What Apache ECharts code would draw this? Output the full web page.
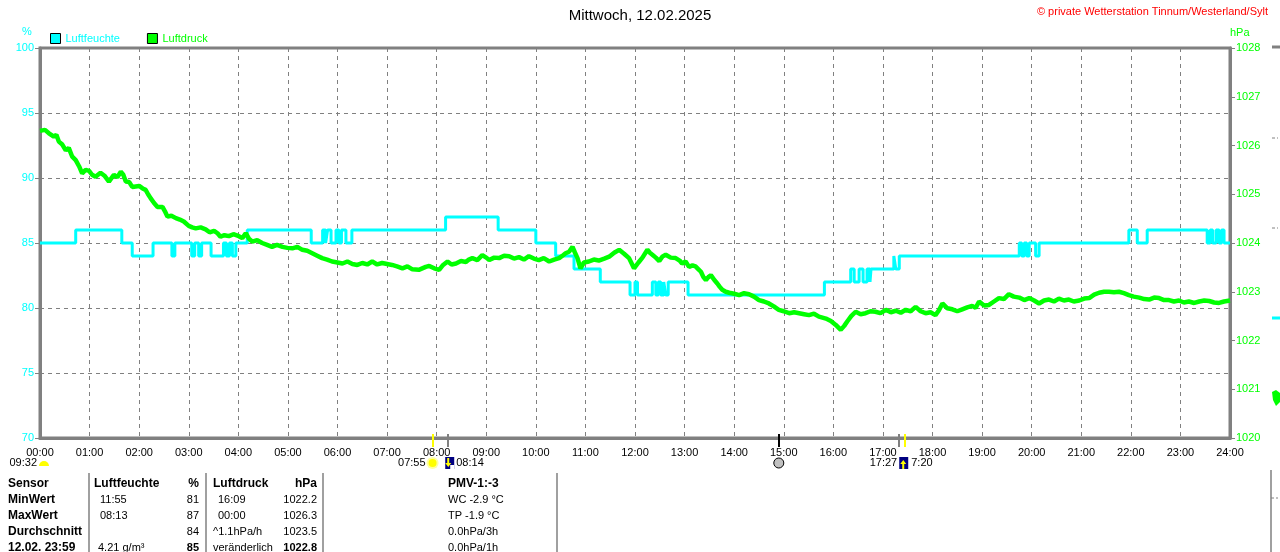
<!DOCTYPE html>
<html><head><meta charset="utf-8">
<script src="https://cdn.jsdelivr.net/npm/echarts@6/dist/echarts.min.js"></script>
<style>html,body{margin:0;padding:0;background:#fff}#c{width:1280px;height:552px}</style>
</head><body><div id="c"></div>
<script>
const FONT = 'Liberation Sans, Arial, sans-serif';
const titleText = 'Mittwoch, 12.02.2025';
const copyrightText = '© private Wetterstation Tinnum/Westerland/Sylt';
const seriesNames = ['Luftfeuchte', 'Luftdruck'];
const xTickLabels = ['00:00','01:00','02:00','03:00','04:00','05:00','06:00','07:00','08:00','09:00','10:00','11:00','12:00','13:00','14:00','15:00','16:00','17:00','18:00','19:00','20:00','21:00','22:00','23:00','24:00'];

// Luftfeuchte (%), step values: value holds from time (hours) until next entry
const humTime = [0,0.72,1.65,1.86,2.28,2.66,2.72,3.06,3.12,3.2,3.26,3.45,3.7,3.76,3.82,3.88,3.95,4.18,5.47,5.70,5.76,5.80,5.87,5.97,6.03,6.08,6.17,6.29,8.18,9.24,10.0,10.4,10.77,11.3,11.9,12.0,12.05,12.35,12.42,12.47,12.52,12.58,12.62,12.67,13.07,15.82,16.35,16.42,16.52,16.6,16.68,16.74,16.76,17.22,17.26,17.33,19.75,19.8,19.85,19.9,19.95,20.08,20.15,21.96,22.13,22.33,23.54,23.6,23.65,23.72,23.78,23.83,23.88,24];
const humValue = [85,86,85,84,85,84,85,84,85,84,85,84,85,84,85,84,85,86,85,86,85,86,85,86,85,86,85,86,87,86,85,84,83,82,81,82,81,82,81,82,81,82,81,82,81,82,83,82,83,82,83,82,83,84,83,84,85,84,85,84,85,84,85,86,85,86,85,86,85,86,85,86,85,85];

// Luftdruck (hPa)
const pressTime = [0.00,0.10,0.18,0.28,0.33,0.38,0.45,0.52,0.58,0.65,0.72,0.79,0.85,0.92,0.99,1.05,1.12,1.22,1.30,1.39,1.49,1.56,1.63,1.68,1.73,1.80,1.86,2.00,2.07,2.13,2.18,2.23,2.30,2.37,2.47,2.52,2.57,2.65,2.74,2.82,2.90,3.00,3.07,3.14,3.24,3.34,3.42,3.51,3.58,3.64,3.72,3.81,3.90,4.01,4.08,4.15,4.22,4.28,4.38,4.48,4.58,4.68,4.78,4.89,4.99,5.09,5.19,5.29,5.39,5.49,5.59,5.69,5.79,5.89,6.00,6.10,6.20,6.30,6.40,6.50,6.60,6.70,6.80,6.90,7.00,7.10,7.20,7.31,7.41,7.51,7.64,7.78,7.85,7.95,8.05,8.13,8.22,8.30,8.39,8.49,8.59,8.65,8.72,8.82,8.92,9.00,9.06,9.16,9.26,9.36,9.46,9.56,9.66,9.76,9.86,9.96,10.06,10.16,10.27,10.37,10.47,10.55,10.60,10.67,10.74,10.79,10.84,10.90,10.97,11.07,11.17,11.27,11.38,11.48,11.58,11.68,11.78,11.88,11.98,12.07,12.15,12.25,12.30,12.35,12.42,12.49,12.55,12.62,12.72,12.82,12.90,12.95,13.02,13.09,13.16,13.22,13.28,13.33,13.38,13.43,13.48,13.53,13.60,13.66,13.71,13.76,13.83,13.90,14.00,14.10,14.20,14.30,14.40,14.50,14.60,14.70,14.80,14.90,15.00,15.11,15.21,15.31,15.41,15.51,15.61,15.71,15.85,15.95,16.05,16.15,16.22,16.28,16.36,16.45,16.55,16.65,16.75,16.85,16.95,17.06,17.16,17.26,17.36,17.46,17.56,17.66,17.76,17.86,17.96,18.06,18.13,18.20,18.30,18.40,18.50,18.60,18.70,18.80,18.87,18.94,19.04,19.14,19.24,19.34,19.44,19.54,19.64,19.75,19.85,19.95,20.05,20.15,20.25,20.35,20.45,20.55,20.65,20.75,20.85,20.96,21.06,21.16,21.26,21.36,21.46,21.56,21.66,21.76,21.86,21.96,22.06,22.17,22.27,22.37,22.47,22.57,22.67,22.77,22.87,22.97,23.07,23.17,23.28,23.38,23.48,23.58,23.68,23.78,23.88,24.00];
const pressValue = [1026.30,1026.32,1026.25,1026.18,1026.22,1026.08,1026.02,1025.90,1025.95,1025.77,1025.70,1025.57,1025.43,1025.50,1025.48,1025.40,1025.36,1025.44,1025.38,1025.26,1025.40,1025.35,1025.46,1025.40,1025.26,1025.25,1025.15,1025.17,1025.12,1025.09,1025.00,1024.92,1024.82,1024.74,1024.74,1024.65,1024.54,1024.56,1024.51,1024.48,1024.44,1024.35,1024.32,1024.30,1024.32,1024.28,1024.22,1024.25,1024.20,1024.13,1024.16,1024.14,1024.18,1024.14,1024.10,1024.20,1024.08,1024.03,1024.06,1024.00,1023.96,1023.92,1023.96,1023.92,1023.90,1023.89,1023.92,1023.86,1023.84,1023.79,1023.74,1023.69,1023.66,1023.62,1023.60,1023.58,1023.62,1023.57,1023.55,1023.59,1023.56,1023.62,1023.56,1023.59,1023.57,1023.55,1023.52,1023.48,1023.52,1023.46,1023.45,1023.51,1023.53,1023.48,1023.45,1023.55,1023.62,1023.56,1023.58,1023.63,1023.61,1023.66,1023.69,1023.65,1023.75,1023.70,1023.65,1023.70,1023.69,1023.74,1023.73,1023.68,1023.71,1023.66,1023.73,1023.68,1023.65,1023.69,1023.62,1023.66,1023.69,1023.75,1023.79,1023.82,1023.92,1023.80,1023.69,1023.48,1023.60,1023.62,1023.66,1023.64,1023.68,1023.72,1023.80,1023.86,1023.78,1023.69,1023.48,1023.60,1023.70,1023.86,1023.80,1023.76,1023.70,1023.63,1023.72,1023.76,1023.70,1023.69,1023.64,1023.58,1023.62,1023.51,1023.54,1023.52,1023.46,1023.41,1023.30,1023.24,1023.30,1023.34,1023.24,1023.17,1023.10,1023.04,1023.00,1022.98,1022.96,1022.93,1022.97,1022.95,1022.90,1022.83,1022.80,1022.76,1022.70,1022.63,1022.60,1022.56,1022.58,1022.56,1022.54,1022.52,1022.55,1022.49,1022.45,1022.40,1022.32,1022.22,1022.30,1022.39,1022.50,1022.59,1022.54,1022.56,1022.60,1022.59,1022.56,1022.63,1022.58,1022.61,1022.57,1022.63,1022.60,1022.69,1022.60,1022.56,1022.58,1022.52,1022.62,1022.76,1022.66,1022.64,1022.60,1022.64,1022.68,1022.71,1022.67,1022.80,1022.72,1022.73,1022.80,1022.87,1022.85,1022.95,1022.90,1022.88,1022.83,1022.87,1022.82,1022.76,1022.82,1022.84,1022.80,1022.86,1022.82,1022.84,1022.80,1022.82,1022.86,1022.87,1022.94,1022.98,1023.00,1023.00,1022.99,1023.00,1022.97,1022.93,1022.90,1022.88,1022.85,1022.84,1022.88,1022.87,1022.83,1022.83,1022.80,1022.82,1022.78,1022.80,1022.77,1022.80,1022.82,1022.81,1022.78,1022.77,1022.80,1022.82];

// Sun / moon events below the time axis (hours)
const eventTime = [7.917, 8.233, 14.9, 17.33, 17.45];
const eventKind = ['sun', 'moon', 'transit', 'moon', 'sun'];

// Summary table
const tableCol1 = ['Sensor','MinWert','MaxWert','Durchschnitt','12.02. 23:59'];
const tableHumTime = ['Luftfeuchte','11:55','08:13','','4.21 g/m³'];
const tableHumVal = ['%','81','87','84','85'];
const tablePresTime = ['Luftdruck','16:09','00:00','^1.1hPa/h','veränderlich'];
const tablePresVal = ['hPa','1022.2','1026.3','1023.5','1022.8'];
const tableExtra = ['PMV-1:-3','WC -2.9 °C','TP -1.9 °C','0.0hPa/3h','0.0hPa/1h'];

const CYAN = '#00ffff', GREEN = '#00ff00', GREY = '#808080';
const chart = echarts.init(document.getElementById('c'), null, {renderer: 'canvas'});

const humData = humTime.map((t, i) => [t, humValue[i]]);
const pressData = pressTime.map((t, i) => [t, pressValue[i]]);

chart.setOption({
  animation: false,
  backgroundColor: '#fff',
  textStyle: {fontFamily: FONT},
  grid: {left: 40, right: 50, top: 48, bottom: 114, show: true, borderColor: GREY, borderWidth: 3},
  legend: {
    left: 50, top: 33, padding: 0, itemWidth: 10, itemHeight: 10, itemGap: 27, icon: 'rect',
    itemStyle: {borderColor: '#000', borderWidth: 1},
    data: [
      {name: seriesNames[0], textStyle: {color: CYAN}},
      {name: seriesNames[1], textStyle: {color: GREEN}}
    ],
    textStyle: {fontSize: 11, fontFamily: FONT, padding: [1, 0, 0, 0]}
  },
  xAxis: {
    type: 'value', min: 0, max: 24, interval: 1,
    axisLine: {lineStyle: {color: GREY, width: 3}},
    axisTick: {show: false},
    axisLabel: {color: '#000', fontSize: 11, fontFamily: FONT, margin: 9,
      formatter: v => xTickLabels[Math.round(v)]},
    splitLine: {show: true, lineStyle: {color: GREY, type: [4, 4], width: 1}}
  },
  yAxis: [
    {
      type: 'value', min: 70, max: 100, interval: 5, position: 'left',
      axisLine: {show: true, lineStyle: {color: GREY, width: 3}},
      axisTick: {show: true, length: 5, lineStyle: {color: GREY, width: 1}},
      axisLabel: {color: CYAN, fontSize: 11, fontFamily: FONT, margin: 6},
      splitLine: {show: true, lineStyle: {color: GREY, type: [4, 4], width: 1}}
    },
    {
      type: 'value', min: 1020, max: 1028, interval: 1, position: 'right',
      axisLine: {show: true, lineStyle: {color: GREY, width: 3}},
      axisTick: {show: true, length: 5, lineStyle: {color: GREY, width: 1}},
      axisLabel: {color: GREEN, fontSize: 11, fontFamily: FONT, margin: 6, formatter: v => String(v)},
      splitLine: {show: false}
    }
  ],
  series: [
    {name: seriesNames[0], type: 'line', step: 'end', yAxisIndex: 0, data: humData,
     showSymbol: false, color: CYAN, lineStyle: {color: CYAN, width: 3}, z: 3},
    {name: seriesNames[1], type: 'line', yAxisIndex: 1, data: pressData,
     showSymbol: false, color: GREEN, lineStyle: {color: GREEN, width: 4.5}, z: 4}
  ]
});

// ---------- decorations ----------
const g = [];
function txt(x, y, text, opt) {
  opt = opt || {};
  g.push({type: 'text', x: x, y: y, silent: true, z: 100,
    style: {text: text, fill: opt.color || '#000', font: (opt.bold ? 'bold ' : '') + (opt.size || 11) + 'px ' + FONT,
      textAlign: opt.align || 'left', textVerticalAlign: 'middle'}});
}
txt(640, 16, titleText, {size: 15, align: 'center'});
txt(1268, 12, copyrightText, {color: '#ff0000', align: 'right'});
txt(27, 32, '%', {color: CYAN, align: 'center'});
txt(1230, 33, 'hPa', {color: GREEN});

const axisY = chart.convertToPixel({yAxisIndex: 0}, 70);
const px = t => chart.convertToPixel({xAxisIndex: 0}, t);
const tickColor = {sun: '#ffff00', moon: GREY, transit: '#000'};
eventTime.forEach((t, i) => {
  const x = Math.round(px(t));
  g.push({type: 'line', silent: true, z: 90, shape: {x1: x, y1: axisY - 4, x2: x, y2: axisY + 9},
    style: {stroke: tickColor[eventKind[i]], lineWidth: 2}});
});
const rowY = axisY + 25;
// 09:32 with cloud
txt(37, rowY, '09:32', {align: 'right'});
g.push({type: 'sector', silent: true, z: 90, shape: {cx: 44, cy: rowY + 3, r: 5, startAngle: Math.PI, endAngle: 2 * Math.PI}, style: {fill: '#ffff00'}});
// sunrise
const xSunrise = px(eventTime[0]);
txt(xSunrise - 7, rowY, '07:55', {align: 'right'});
g.push({type: 'circle', silent: true, z: 90, shape: {cx: xSunrise, cy: rowY, r: 4}, style: {fill: '#ffff00'}});
g.push({type: 'circle', silent: true, z: 89, shape: {cx: xSunrise, cy: rowY, r: 6}, style: {fill: '#ffffa0'}});
// moonset icon
const xMoon1 = px(eventTime[1]);
g.push({type: 'rect', silent: true, z: 90, shape: {x: xMoon1 - 3, y: rowY - 6, width: 9, height: 12}, style: {fill: '#000080'}});
g.push({type: 'rect', silent: true, z: 91, shape: {x: xMoon1 + 2, y: rowY + 2, width: 4, height: 4}, style: {fill: '#ffffff'}});
g.push({type: 'polyline', silent: true, z: 92, shape: {points: [[xMoon1, rowY - 5], [xMoon1, rowY + 2]]}, style: {stroke: '#ffff00', lineWidth: 2}});
g.push({type: 'polygon', silent: true, z: 92, shape: {points: [[xMoon1 - 3, rowY], [xMoon1 + 3, rowY], [xMoon1, rowY + 4]]}, style: {fill: '#ffff00'}});
txt(xMoon1 + 8, rowY, '08:14');
// transit icon
const xTr = px(eventTime[2]);
g.push({type: 'circle', silent: true, z: 90, shape: {cx: xTr, cy: rowY, r: 5}, style: {fill: '#c0c0c0', stroke: '#000', lineWidth: 1}});
// sunset
const xSet = px(eventTime[4]);
txt(xSet - 8, rowY, '17:27', {align: 'right'});
g.push({type: 'rect', silent: true, z: 90, shape: {x: xSet - 6, y: rowY - 6, width: 9, height: 12}, style: {fill: '#000080'}});
g.push({type: 'polyline', silent: true, z: 92, shape: {points: [[xSet - 2, rowY + 6], [xSet - 2, rowY - 1]]}, style: {stroke: '#ffff00', lineWidth: 2}});
g.push({type: 'polygon', silent: true, z: 92, shape: {points: [[xSet - 5, rowY + 1], [xSet + 1, rowY + 1], [xSet - 2, rowY - 3]]}, style: {fill: '#ffff00'}});
txt(xSet + 6, rowY, '7:20');

// table dividers
[89, 206, 323, 557].forEach(x => {
  g.push({type: 'line', silent: true, z: 80, shape: {x1: x, y1: 473, x2: x, y2: 552}, style: {stroke: GREY, lineWidth: 1.5}});
});
const rows = [484, 500, 516, 532, 548];
rows.forEach((y, r) => {
  const head = r === 0;
  txt(8, y, tableCol1[r], {bold: true, size: 12});
  txt(head ? 94 : (r === 4 ? 98 : 100), y, tableHumTime[r], {bold: head, size: head ? 12 : 11});
  txt(199, y, tableHumVal[r], {bold: head || r === 4, size: head ? 12 : 11, align: 'right'});
  txt((head || r >= 3) ? 213 : 218, y, tablePresTime[r], {bold: head, size: head ? 12 : 11});
  txt(317, y, tablePresVal[r], {bold: head || r === 4, size: head ? 12 : 11, align: 'right'});
  txt(448, y, tableExtra[r], {bold: head, size: head ? 12 : 11});
});

// partial neighbour panel at right edge
g.push({type: 'line', silent: true, shape: {x1: 1272, y1: 47, x2: 1280, y2: 47}, style: {stroke: GREY, lineWidth: 3}});
g.push({type: 'line', silent: true, shape: {x1: 1272, y1: 138, x2: 1278, y2: 138}, style: {stroke: GREY, lineWidth: 1, lineDash: [3, 2]}});
g.push({type: 'line', silent: true, shape: {x1: 1272, y1: 228, x2: 1278, y2: 228}, style: {stroke: GREY, lineWidth: 1, lineDash: [3, 2]}});
g.push({type: 'line', silent: true, shape: {x1: 1272, y1: 318, x2: 1280, y2: 318}, style: {stroke: CYAN, lineWidth: 3}});
g.push({type: 'polygon', silent: true, shape: {points: [[1272, 392], [1276, 390], [1280, 393], [1280, 402], [1276, 406], [1273, 400]]}, style: {fill: GREEN}});
g.push({type: 'line', silent: true, shape: {x1: 1271, y1: 470, x2: 1271, y2: 552}, style: {stroke: GREY, lineWidth: 1.5}});
g.push({type: 'line', silent: true, shape: {x1: 1271, y1: 498, x2: 1278, y2: 498}, style: {stroke: GREY, lineWidth: 1, lineDash: [3, 2]}});

chart.setOption({graphic: g});
</script>
</body></html>
